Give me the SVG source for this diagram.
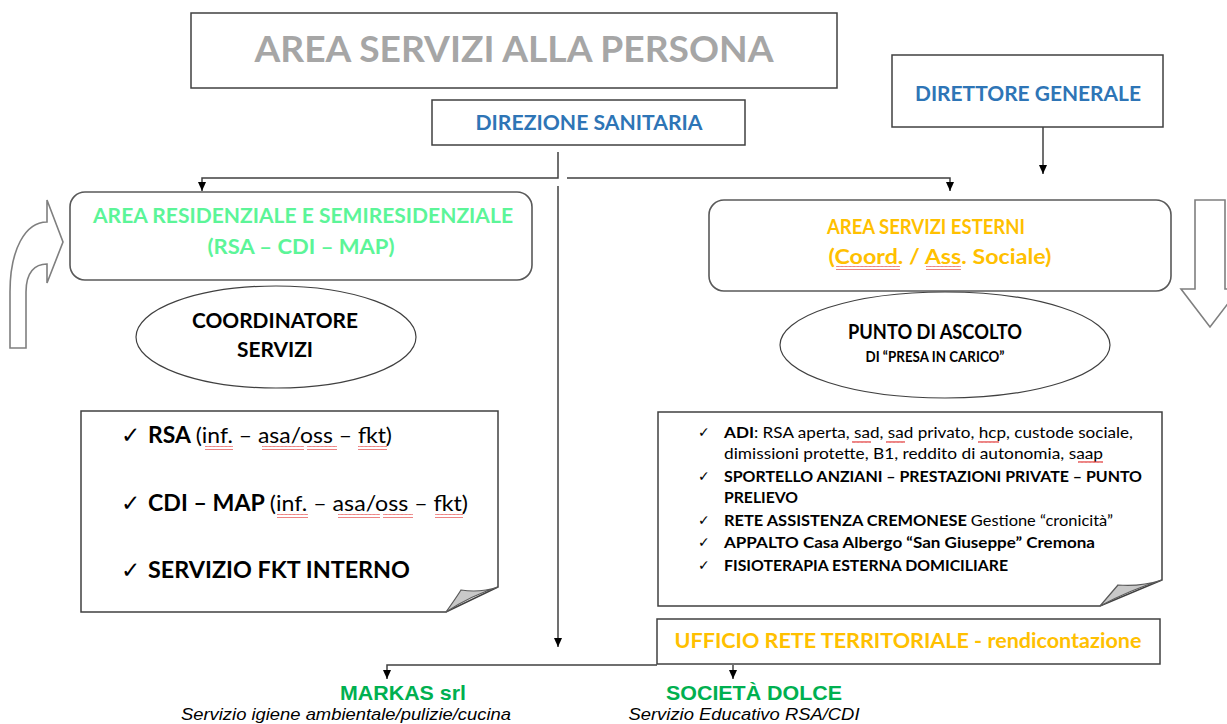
<svg xmlns="http://www.w3.org/2000/svg" width="1227" height="724" viewBox="0 0 1227 724">
<style>
.box{fill:#fff;stroke:#404040;stroke-width:1.5}
.rbox{fill:#fff;stroke:#595959;stroke-width:1.6}
.ell{fill:#fff;stroke:#404040;stroke-width:1.2}
.shape{fill:#fff;stroke:#7f7f7f;stroke-width:1.6}
.curl{fill:#c8c8c8;stroke:#595959;stroke-width:1.2}
.f{font-family:Lato,"Open Sans","Liberation Sans",sans-serif}
.b{font-weight:bold}
.n{font-weight:normal}
.t{text-anchor:middle}
.grey{fill:#a6a6a6}
.blue{fill:#2e75b6}
.lgreen{fill:#5cf598}
.orange{fill:#ffc000}
.green{fill:#00b050}
.blk{fill:#000}
.chk{font-family:"DejaVu Sans",sans-serif;fill:#000}
.ar{font-family:"Liberation Sans",Arial,sans-serif}
.conn{fill:none;stroke:#404040;stroke-width:1.5}
.sq{fill:url(#squig)}
</style>
<defs>
<marker id="arr" markerWidth="10" markerHeight="10" refX="9" refY="5" orient="auto" markerUnits="userSpaceOnUse">
<path d="M0,1 L9,5 L0,9 Z" fill="#000"/>
</marker>
<pattern id="squig" width="4" height="4" patternUnits="userSpaceOnUse">
<path d="M0,3 L1,1 L2,3 L3,1 L4,3" fill="none" stroke="#e03030" stroke-width="0.7"/>
</pattern>
</defs>

<g id="title">
<rect class="box" x="191" y="13" width="646" height="75"/>
<text class="f b t grey" x="514" y="62" font-size="37" font-weight="900" textLength="519" lengthAdjust="spacingAndGlyphs">AREA SERVIZI ALLA PERSONA</text>
</g>

<g id="direzione-sanitaria">
<rect class="box" x="432" y="100" width="313" height="45"/>
<text class="f b t blue" x="589" y="130" font-size="20" textLength="227" lengthAdjust="spacingAndGlyphs">DIREZIONE SANITARIA</text>
</g>

<g id="direttore-generale">
<rect class="box" x="892" y="55" width="271" height="72"/>
<text class="f b t blue" x="1028" y="101" font-size="20" textLength="226" lengthAdjust="spacingAndGlyphs">DIRETTORE GENERALE</text>
</g>

<g id="area-residenziale">
<rect class="rbox" x="70" y="192" width="462" height="88" rx="15"/>
<text class="f b t lgreen" x="303" y="223" font-size="20" textLength="420" lengthAdjust="spacingAndGlyphs">AREA RESIDENZIALE E SEMIRESIDENZIALE</text>
<text class="f b t lgreen" x="301" y="254" font-size="20" textLength="187" lengthAdjust="spacingAndGlyphs">(RSA – CDI – MAP)</text>
</g>

<g id="area-servizi-esterni">
<rect class="rbox" x="709" y="200" width="462" height="91" rx="15"/>
<text class="f b t orange" x="926" y="234" font-size="20" textLength="198" lengthAdjust="spacingAndGlyphs">AREA SERVIZI ESTERNI</text>
<text class="f b t orange" x="940" y="264" font-size="20" textLength="223" lengthAdjust="spacingAndGlyphs">(Coord. / Ass. Sociale)</text>
<rect class="sq" x="836" y="266" width="64" height="4"/>
<rect class="sq" x="926" y="266" width="35" height="4"/>
</g>

<g id="freccia-sinistra">
<path class="shape" d="M10,348 V292 C10,250 25,222 47,222 V200 L63,242 L47,283 V264 C35,264 26,272 26,292 V348 Z"/>
</g>

<g id="freccia-destra">
<path class="shape" d="M1195,200 H1225 V289 H1239 L1210,327 L1181,289 H1195 Z"/>
</g>

<g id="coordinatore-servizi">
<ellipse class="ell" cx="276" cy="337" rx="140" ry="51"/>
<text class="f b t blk" x="275" y="328" font-size="21" textLength="166" lengthAdjust="spacingAndGlyphs">COORDINATORE</text>
<text class="f b t blk" x="275" y="357" font-size="21" textLength="76" lengthAdjust="spacingAndGlyphs">SERVIZI</text>
</g>

<g id="punto-di-ascolto">
<ellipse class="ell" cx="945" cy="345" rx="165" ry="53"/>
<text class="f b t blk" x="935" y="339" font-size="21" textLength="174" lengthAdjust="spacingAndGlyphs">PUNTO DI ASCOLTO</text>
<text class="f b t blk" x="935" y="362" font-size="15" textLength="139" lengthAdjust="spacingAndGlyphs">DI “PRESA IN CARICO”</text>
</g>

<g id="servizi-interni">
<path class="box" d="M81,411 H498 V587 L446,612 H81 Z"/>
<path class="curl" d="M446,612 Q456,598 461,590 Q480,593 498,587 Q470,596 446,612 Z"/>
<text class="chk" x="121" y="443" font-size="23">✓</text>
<text class="f b blk" x="148" y="443" font-size="22" textLength="244" lengthAdjust="spacingAndGlyphs">RSA <tspan class="n">(inf. – asa/oss – fkt)</tspan></text>
<text class="chk" x="121" y="511" font-size="23">✓</text>
<text class="f b blk" x="148" y="511" font-size="22" textLength="320" lengthAdjust="spacingAndGlyphs">CDI – MAP <tspan class="n">(inf. – asa/oss – fkt)</tspan></text>
<text class="chk" x="121" y="578" font-size="23">✓</text>
<text class="f b blk" x="148" y="578" font-size="22" textLength="262" lengthAdjust="spacingAndGlyphs">SERVIZIO FKT INTERNO</text>
<rect class="sq" x="205" y="446" width="28" height="4"/>
<rect class="sq" x="262" y="446" width="42" height="4"/>
<rect class="sq" x="307" y="446" width="30" height="4"/>
<rect class="sq" x="358" y="446" width="29" height="4"/>
<rect class="sq" x="277" y="514" width="31" height="4"/>
<rect class="sq" x="338" y="514" width="42" height="4"/>
<rect class="sq" x="383" y="514" width="30" height="4"/>
<rect class="sq" x="435" y="514" width="28" height="4"/>
</g>

<g id="servizi-esterni-elenco">
<path class="box" d="M658,412 H1162 V580 L1100,606 H658 Z"/>
<path class="curl" d="M1100,606 Q1112,592 1118,585 Q1140,587 1162,580 Q1130,590 1100,606 Z"/>
<text class="chk" x="698" y="437" font-size="14">✓</text>
<text class="f n blk" x="724" y="438" font-size="15" textLength="409" lengthAdjust="spacingAndGlyphs"><tspan class="b">ADI</tspan>: RSA aperta, sad, sad privato, hcp, custode sociale,</text>
<text class="f n blk" x="724" y="459" font-size="15" textLength="379" lengthAdjust="spacingAndGlyphs">dimissioni protette, B1, reddito di autonomia, saap</text>
<text class="chk" x="698" y="481" font-size="14">✓</text>
<text class="f b blk" x="724" y="482" font-size="15" textLength="418" lengthAdjust="spacingAndGlyphs">SPORTELLO ANZIANI – PRESTAZIONI PRIVATE – PUNTO</text>
<text class="f b blk" x="724" y="503" font-size="15" textLength="74" lengthAdjust="spacingAndGlyphs">PRELIEVO</text>
<text class="chk" x="698" y="525" font-size="14">✓</text>
<text class="f b blk" x="724" y="526" font-size="15" textLength="389" lengthAdjust="spacingAndGlyphs">RETE ASSISTENZA CREMONESE <tspan class="n">Gestione “cronicità”</tspan></text>
<text class="chk" x="698" y="547" font-size="14">✓</text>
<text class="f b blk" x="724" y="548" font-size="15" textLength="371" lengthAdjust="spacingAndGlyphs">APPALTO Casa Albergo “San Giuseppe” Cremona</text>
<text class="chk" x="698" y="570" font-size="14">✓</text>
<text class="f b blk" x="724" y="571" font-size="15" textLength="284" lengthAdjust="spacingAndGlyphs">FISIOTERAPIA ESTERNA DOMICILIARE</text>
<rect class="sq" x="852" y="440" width="19" height="4"/>
<rect class="sq" x="886" y="440" width="19" height="4"/>
<rect class="sq" x="978" y="440" width="21" height="4"/>
<rect class="sq" x="1078" y="461" width="25" height="4"/>
</g>

<g id="ufficio-rete-territoriale">
<rect class="box" x="657" y="619" width="503" height="45"/>
<text class="f b t orange" x="908" y="648" font-size="20" textLength="467" lengthAdjust="spacingAndGlyphs">UFFICIO RETE TERRITORIALE - rendicontazione</text>
</g>

<g id="markas">
<text class="ar b t green" x="403" y="700" font-size="21" textLength="126" lengthAdjust="spacingAndGlyphs">MARKAS srl</text>
<text class="ar t blk" x="346" y="720" font-size="17" font-style="italic" textLength="330" lengthAdjust="spacingAndGlyphs">Servizio igiene ambientale/pulizie/cucina</text>
</g>

<g id="societa-dolce">
<text class="ar b t green" x="754" y="700" font-size="21" textLength="176" lengthAdjust="spacingAndGlyphs">SOCIETÀ DOLCE</text>
<text class="ar t blk" x="744" y="720" font-size="17" font-style="italic" textLength="231" lengthAdjust="spacingAndGlyphs">Servizio Educativo RSA/CDI</text>
</g>

<g id="connectors">
<path class="conn" d="M558,152 V178 H202 V191" marker-end="url(#arr)"/>
<path class="conn" d="M567,178 H950 V191" marker-end="url(#arr)"/>
<path class="conn" d="M558,186 V647" marker-end="url(#arr)"/>
<path class="conn" d="M1043,127 V174" marker-end="url(#arr)"/>
<path class="conn" d="M657,665 H387 V679" marker-end="url(#arr)"/>
<path class="conn" d="M733,665 V679" marker-end="url(#arr)"/>
</g>
</svg>
